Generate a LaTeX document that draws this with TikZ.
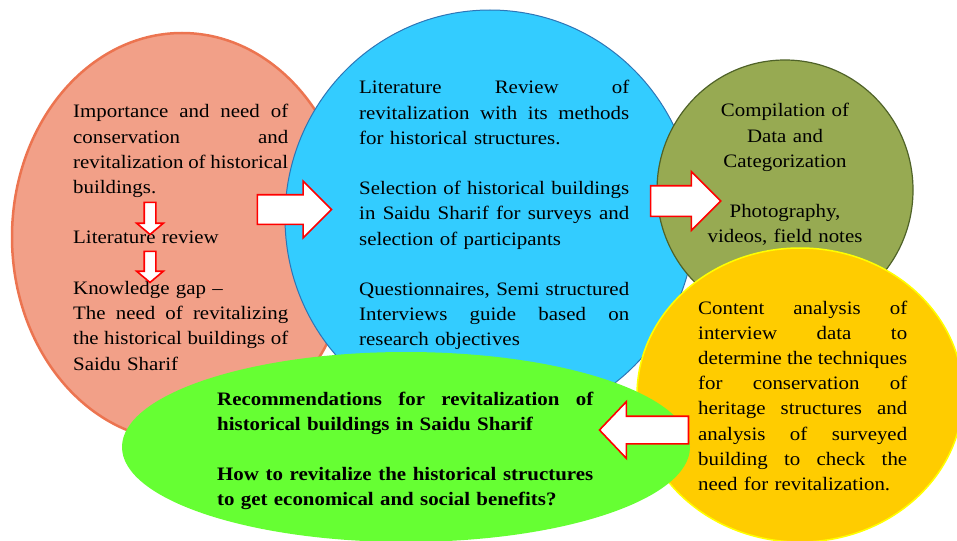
\documentclass[tikz,border=0pt]{standalone}
\usepackage{fontspec}
\setmainfont{Liberation Serif}[FakeStretch=1.1]
\usetikzlibrary{shapes.geometric,shapes.arrows}
\setlength{\parindent}{0pt}
\newcommand{\jline}[1]{\leavevmode\hbox to\hsize{\spaceskip=\fontdimen2\font plus 1fil minus .3\fontdimen2\font\relax #1}}
\definecolor{revitcolor0000}{RGB}{242,160,136}
\definecolor{revitcolor0001}{RGB}{236,116,80}
\definecolor{revitcolor0002}{RGB}{51,204,255}
\definecolor{revitcolor0003}{RGB}{46,117,182}
\definecolor{revitcolor0004}{RGB}{151,170,82}
\definecolor{revitcolor0005}{RGB}{79,98,40}
\definecolor{revitcolor0006}{RGB}{255,204,0}
\definecolor{revitcolor0007}{RGB}{255,255,0}
\definecolor{revitcolor0008}{RGB}{102,255,51}
\definecolor{revitcolor0009}{RGB}{255,0,0}
\begin{document}
\begin{tikzpicture}[yscale=-1
,rstyle0/.style={ellipse,inner sep=0pt,draw=revitcolor0001,fill=revitcolor0000,line width=2.5pt}
,rstyle1/.style={ellipse,inner sep=0pt,draw=revitcolor0003,fill=revitcolor0002,line width=1pt}
,rstyle2/.style={ellipse,inner sep=0pt,draw=revitcolor0005,fill=revitcolor0004,line width=1.2pt}
,rstyle3/.style={ellipse,inner sep=0pt,draw=revitcolor0007,fill=revitcolor0006,line width=1.5pt}
,rstyle4/.style={ellipse,inner sep=0pt,fill=revitcolor0008}
,rtext/.style={anchor=base west,inner sep=0pt,color=black,font=\fontsize{19pt}{25.2pt}\selectfont}
,rarrow/.style={single arrow,draw=revitcolor0009,fill=white,line width=1.6pt,inner sep=0pt,single arrow head indent=0pt}
]
\useasboundingbox (0pt,0pt) rectangle (957pt,540pt);
\node[rstyle0,minimum width=340pt,minimum height=408pt] (need) at (182pt,237pt) {};
\node[rstyle1,minimum width=410pt,minimum height=416pt] (review) at (490pt,218pt) {};
\node[rstyle2,minimum width=256pt,minimum height=260pt] (compile) at (785pt,190pt) {};
\node[rstyle3,minimum width=326pt,minimum height=294pt] (analysis) at (800pt,395pt) {};
\node[rstyle4,minimum width=568pt,minimum height=190pt] (recommend) at (406pt,447pt) {};
\node[rtext,text width=215pt] (needtext) at (73pt,118pt) {\jline{Importance and need of}\\
\jline{conservation and}\\
\jline{revitalization of historical}\\
buildings.\\[25.2pt]
Literature review\\[25.2pt]
Knowledge gap --\\
\jline{The need of revitalizing}\\
\jline{the historical buildings of}\\
Saidu Sharif};
\node[rtext,text width=270pt] (reviewtext) at (359pt,94pt) {\jline{Literature Review of}\\
\jline{revitalization with its methods}\\
for historical structures.\\[25.2pt]
\jline{Selection of historical buildings}\\
\jline{in Saidu Sharif for surveys and}\\
selection of participants\\[25.2pt]
\jline{Questionnaires, Semi structured}\\
\jline{Interviews guide based on}\\
research objectives};
\node[rtext,anchor=base,text width=220pt,align=center] (compiletext) at (785pt,117pt) {Compilation of\\
Data and\\
Categorization\\[25.2pt]
Photography,\\
videos, field notes};
\node[rtext,text width=209pt] (analysistext) at (698pt,314pt) {\jline{Content analysis of}\\
\jline{interview data to}\\
\jline{determine the techniques}\\
\jline{for conservation of}\\
\jline{heritage structures and}\\
\jline{analysis of surveyed}\\
\jline{building to check the}\\
need for revitalization.};
\node[rtext,text width=376pt,font=\fontsize{19pt}{25.2pt}\selectfont\bfseries] (recommendtext) at (217pt,405pt) {\jline{Recommendations for revitalization of}\\
historical buildings in Saidu Sharif\\[25.2pt]
\jline{How to revitalize the historical structures}\\
to get economical and social benefits?};
\node[rarrow,rotate=-90,minimum height=32pt,minimum width=25pt,inner ysep=5pt,single arrow head extend=7.5pt,single arrow tip angle=100] (down0) at (150pt,216pt) {};
\node[rarrow,rotate=-90,minimum height=31pt,minimum width=25pt,inner ysep=5pt,single arrow head extend=7.5pt,single arrow tip angle=100] (down1) at (150pt,264.5pt) {};
\node[rarrow,minimum height=74pt,minimum width=55pt,inner ysep=14pt,single arrow head extend=13.5pt] (right0) at (287pt,209.5pt) {};
\node[rarrow,minimum height=70pt,minimum width=57pt,inner ysep=14.5pt,single arrow head extend=14pt] (right1) at (678pt,201pt) {};
\node[rarrow,rotate=180,minimum height=89pt,minimum width=55pt,inner ysep=13pt,single arrow head extend=14.5pt,single arrow tip angle=93] (left0) at (650.5pt,430pt) {};
\end{tikzpicture}
\end{document}
